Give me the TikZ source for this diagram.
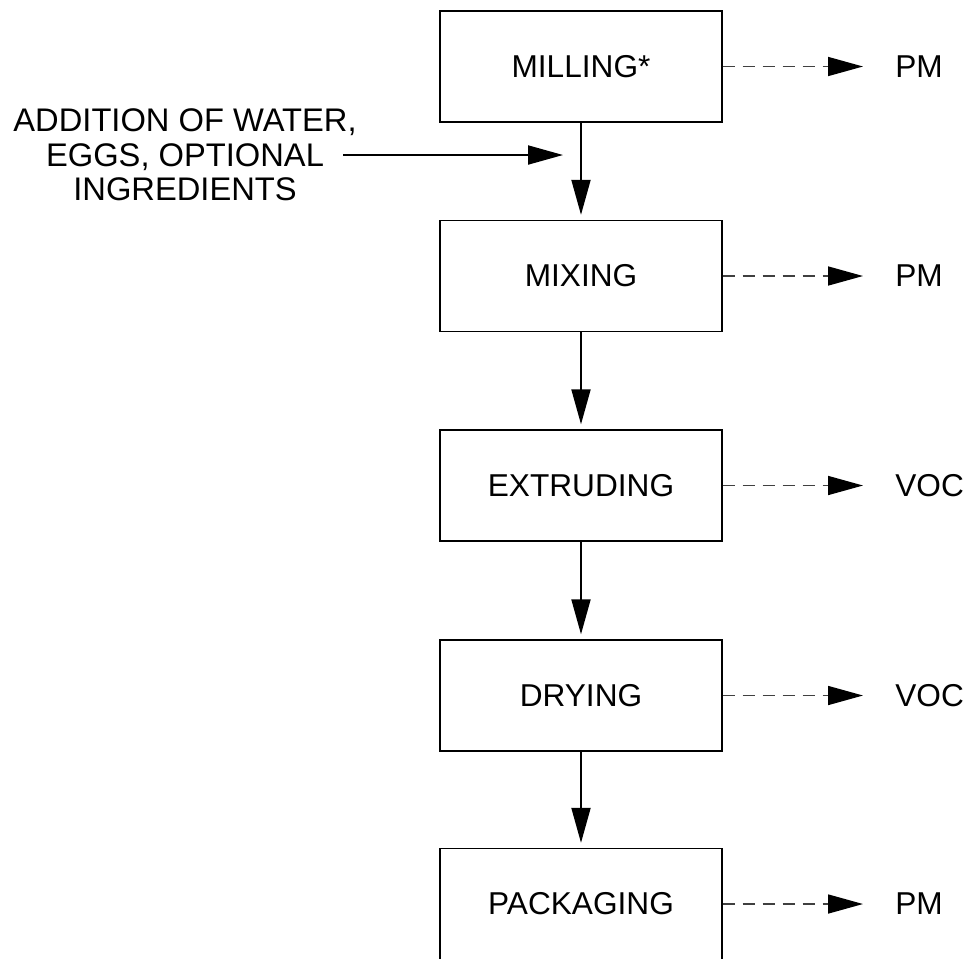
\documentclass[tikz,border=0pt]{standalone}
\usepackage{fontspec}
\setmainfont{Liberation Sans}
\usetikzlibrary{arrows.meta}

\begin{document}
\begin{tikzpicture}[x=0.02cm, y=-0.02cm,
    stage/.style={draw, line width=0.8pt, minimum width=5.64cm, minimum height=2.22cm, inner sep=0pt, font=\fontsize{18}{20}\selectfont},
    flow/.style={line width=1.1pt, shorten >=0.1cm, -{Triangle[length=0.7cm,width=0.38cm]}},
    vent/.style={line width=0.9pt, black!75, dash pattern=on 0.24cm off 0.16cm, -{Triangle[length=0.7cm,width=0.38cm,color=black]}},
    emis/.style={anchor=west, inner sep=0pt, font=\fontsize{18}{20}\selectfont}]
    \useasboundingbox (0,0) rectangle (970,958);
    \node[stage] (mill) at (581,66.5) {MILLING*};
    \node[stage] (mix) at (581,276) {MIXING};
    \node[stage] (extr) at (581,485.5) {EXTRUDING};
    \node[stage] (dry) at (581,695.5) {DRYING};
    \node[stage] (pack) at (581,904) {PACKAGING};
    \node[emis] (e1) at (895,66.5) {PM};
    \node[emis] (e2) at (895,276) {PM};
    \node[emis] (e3) at (895,485.5) {VOC};
    \node[emis] (e4) at (895,695.5) {VOC};
    \node[emis] (e5) at (895,904) {PM};
    \node[align=center, font=\fontsize{18.6}{19.5}\selectfont] (add) at (185,155) {ADDITION OF WATER,\\EGGS, OPTIONAL\\INGREDIENTS};
    \coordinate (feedin) at (343,155);
    \coordinate (feedout) at (563,155);
    \draw[flow] (mill) -- (mix);
    \draw[flow] (mix) -- (extr);
    \draw[flow] (extr) -- (dry);
    \draw[flow] (dry) -- (pack);
    \draw[flow, shorten >=0pt] (feedin) -- (feedout);
    \draw[vent] (mill.east) -- ([xshift=-0.64cm]e1.west);
    \draw[vent] (mix.east) -- ([xshift=-0.64cm]e2.west);
    \draw[vent] (extr.east) -- ([xshift=-0.64cm]e3.west);
    \draw[vent] (dry.east) -- ([xshift=-0.64cm]e4.west);
    \draw[vent] (pack.east) -- ([xshift=-0.64cm]e5.west);
\end{tikzpicture}
\end{document}
